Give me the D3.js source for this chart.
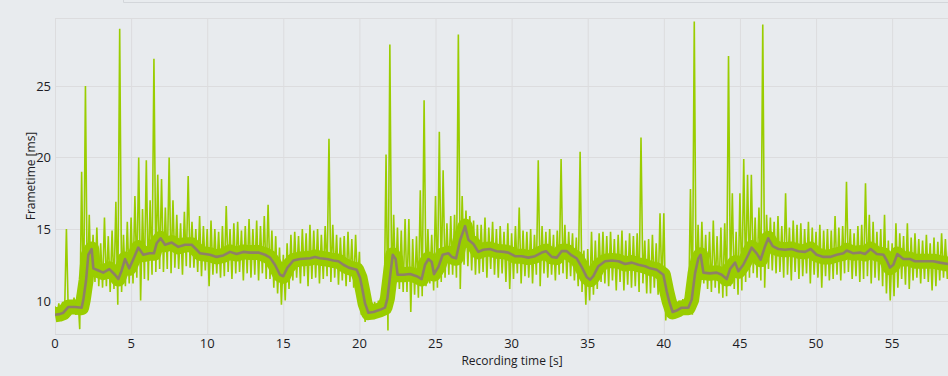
<!DOCTYPE html>
<html>
<head>
<meta charset="utf-8">
<script src="https://cdn.jsdelivr.net/npm/d3@7"></script>
<style>
  html, body { margin: 0; padding: 0; background: #e8ebee; }
  svg { display: block; }
  .tick-label { font-family: "Open Sans", "Noto Sans", sans-serif; font-size: 13px; fill: #1c1c24; }
  .axis-title { font-family: "Open Sans", "Noto Sans", sans-serif; font-size: 12px; fill: #1c1c24; }
</style>
</head>
<body>
<div id="chart"></div>
<script>
// frametime per 0.25 s window (max / min of the frames in it)
const binWidth = 0.25;
const frameMax = [
  9.6, 9.8, 9.9, 15.0,   10.0, 10.2, 10.5, 19.0,   25.0, 16.0, 14.6, 15.1,   14.0, 15.8, 14.5, 14.9,
  16.9, 29.0, 14.6, 15.5,   15.8, 17.3, 20.0, 16.4,   19.8, 17.0, 26.9, 18.8,   18.5, 16.5, 20.0, 17.0,
  16.0, 15.4, 16.2, 18.7,   15.5, 15.0, 15.9, 15.2,   15.0, 15.6, 15.0, 14.8,   15.2, 16.6, 15.0, 15.4,
  15.5, 14.9, 15.2, 15.7,   15.0, 15.6, 15.2, 15.9,   16.7, 14.9, 14.5, 13.7,   13.2, 14.0, 14.6, 14.8,
  14.5, 15.0, 14.7, 15.3,   14.9, 15.0, 14.6, 15.2,   21.3, 15.3, 14.6, 14.4,   14.5, 14.8, 14.3, 14.6,
  13.4, 10.8, 10.0, 10.0,   9.9, 10.0, 10.1, 20.2,   27.9, 16.0, 15.1, 14.9,   15.7, 15.7, 14.3, 14.5,
  17.7, 24.0, 15.0, 14.6,   17.3, 21.8, 19.1, 15.4,   15.9, 16.0, 28.6, 17.3,   16.3, 15.9, 15.6, 15.3,
  15.3, 15.8, 15.1, 15.5,   15.0, 15.2, 14.8, 15.4,   14.7, 15.2, 16.5, 14.9,   14.8, 15.0, 14.6, 19.8,
  15.2, 14.8, 15.0, 14.6,   14.9, 19.9, 15.3, 14.8,   14.7, 14.4, 20.4, 13.5,   13.6, 14.8, 14.2, 14.7,
  14.8, 14.5, 14.8, 14.3,   14.6, 14.9, 14.2, 14.7,   14.5, 14.7, 21.4, 14.2,   14.3, 14.6, 14.0, 16.1,
  16.1, 10.8, 10.0, 10.0,   10.0, 10.1, 10.3, 17.8,   29.5, 15.3, 15.5, 14.6,   14.8, 15.6, 14.5, 15.1,
  15.4, 27.1, 17.5, 14.8,   17.5, 19.9, 18.8, 18.8,   15.8, 16.5, 29.3, 16.0,   15.8, 15.5, 15.9, 15.2,
  17.5, 15.1, 15.6, 15.3,   15.4, 15.0, 15.5, 15.1,   14.8, 15.3, 14.9, 15.0,   14.9, 15.9, 15.1, 15.2,
  18.3, 15.0, 14.7, 15.2,   15.3, 18.2, 16.0, 15.5,   14.8, 15.0, 16.0, 14.2,   14.0, 15.4, 14.7, 14.5,
  15.4, 14.4, 14.7, 14.3,   14.2, 14.6, 14.0, 14.4,   14.1, 14.7, 14.3, 14.2
];
const frameMin = [
  8.7, 8.8, 8.9, 9.0,   9.1, 9.0, 8.0, 9.2,   10.2, 11.0, 11.3, 11.0,   10.9, 11.0, 10.6, 10.8,
  9.7, 10.6, 11.0, 11.2,   11.2, 11.6, 10.0, 11.5,   11.4, 11.8, 12.0, 12.2,   12.0, 12.2, 11.9, 12.3,
  12.2, 11.8, 12.4, 12.3,   12.3, 12.0, 11.7, 12.1,   11.0, 11.8, 11.9, 11.6,   11.7, 12.0, 11.5, 11.9,
  12.0, 11.4, 11.9, 11.6,   11.8, 11.4, 11.9, 11.5,   11.5, 10.9, 10.5, 9.7,   10.0, 10.8, 11.4, 11.6,
  11.2, 11.7, 11.0, 11.5,   11.6, 11.2, 11.5, 11.7,   11.3, 11.6, 11.1, 11.4,   11.0, 11.3, 10.9, 11.2,
  9.0, 8.5, 8.7, 8.8,   8.8, 8.9, 9.0, 7.9,   10.5, 11.2, 10.8, 10.6,   10.6, 9.2, 10.4, 10.2,
  10.3, 11.0, 11.2, 10.7,   10.9, 11.3, 11.6, 11.8,   11.8, 11.6, 10.8, 12.5,   12.4, 12.1, 11.8, 11.9,
  12.0, 11.6, 12.2, 11.8,   11.6, 11.9, 11.3, 10.8,   11.5, 11.9, 11.2, 11.7,   11.6, 11.2, 11.8, 11.0,
  11.9, 11.6, 11.8, 11.4,   11.8, 11.9, 11.5, 11.7,   11.4, 11.0, 10.6, 9.7,   10.0, 10.4, 10.8, 11.3,
  11.2, 11.0, 11.4, 10.7,   11.3, 10.7, 11.1, 10.9,   11.0, 10.6, 11.2, 10.5,   10.5, 10.9, 10.4, 10.8,
  8.6, 8.8, 8.8, 8.9,   8.9, 9.0, 9.1, 9.0,   10.4, 11.0, 11.2, 10.8,   10.6, 10.9, 10.5, 10.2,
  10.3, 11.0, 10.8, 10.4,   10.7, 11.3, 11.6, 11.9,   11.6, 11.4, 10.9, 12.2,   12.1, 11.9, 12.0, 11.6,
  11.8, 11.4, 12.0, 11.5,   11.7, 11.9, 11.2, 11.8,   11.6, 10.9, 11.7, 11.4,   11.5, 11.8, 11.4, 11.9,
  12.0, 11.5, 11.7, 11.3,   11.5, 11.7, 11.2, 11.6,   11.4, 11.0, 10.5, 10.0,   10.3, 10.9, 11.5, 11.1,
  10.8, 11.4, 11.6, 11.2,   11.5, 11.3, 10.7, 11.0,   11.4, 11.6, 11.5, 11.3
];

// moving average
const avgTime = [
  0.0, 0.3, 0.55, 0.88, 1.3, 1.75, 1.86, 2.04, 2.19, 2.41, 2.52, 2.85, 3.17, 3.57, 3.94, 4.16, 4.38, 4.6, 4.88,
  5.15, 5.47, 5.8, 6.2, 6.5, 6.68, 6.94, 7.23, 7.67, 8.1, 8.54, 8.98, 9.31, 9.53, 10.18, 10.62, 11.06, 11.5,
  11.93, 12.37, 12.81, 13.36, 13.8, 14.13, 14.45, 14.78, 15.0, 15.27, 15.66, 16.1, 16.76, 17.08, 17.41, 17.85,
  18.29, 18.62, 18.95, 19.3, 19.82, 20.04, 20.21, 20.37, 20.59, 20.92, 21.35, 21.68, 21.84, 22.01, 22.19, 22.38,
  22.51, 22.89, 23.33, 23.76, 24.09, 24.31, 24.53, 24.75, 24.9, 25.19, 25.47, 25.85, 26.07, 26.35, 26.61, 26.94,
  27.16, 27.49, 27.81, 28.14, 28.58, 29.02, 29.5, 29.78, 30.22, 30.66, 31.1, 31.54, 31.98, 32.26, 32.64, 32.96,
  33.29, 33.62, 33.95, 34.27, 34.6, 34.93, 35.15, 35.37, 35.7, 36.14, 36.58, 37.02, 37.46, 37.9, 38.33, 38.77,
  39.1, 39.53, 39.97, 40.19, 40.36, 40.58, 40.84, 41.17, 41.61, 41.83, 42.05, 42.27, 42.42, 42.6, 43.03, 43.47,
  43.8, 44.13, 44.35, 44.68, 44.9, 45.22, 45.55, 45.77, 46.1, 46.36, 46.65, 46.86, 47.15, 47.52, 47.96, 48.4,
  48.84, 49.28, 49.65, 50.04, 50.48, 50.92, 51.36, 51.8, 52.02, 52.45, 52.89, 53.22, 53.59, 53.99, 54.43, 54.65,
  54.86, 55.08, 55.34, 55.74, 56.17, 56.5, 57.05, 57.7, 58.14, 58.67
];
const avgFrametime = [
  9.0, 9.05, 9.15, 9.55, 9.55, 9.5, 10.05, 11.4, 13.2, 13.6, 12.25, 12.1, 11.95, 12.2, 11.8, 11.5, 12.1, 12.9, 12.25,
  12.9, 13.7, 13.2, 13.3, 13.3, 14.0, 14.35, 13.9, 14.05, 13.75, 13.9, 13.9, 13.55, 13.3, 13.2, 13.05, 13.15, 13.4,
  13.25, 13.4, 13.35, 13.35, 13.2, 13.0, 12.5, 11.8, 11.7, 12.3, 12.8, 12.9, 12.95, 13.05, 12.95, 12.9,
  12.8, 12.75, 12.5, 12.3, 12.15, 11.6, 10.7, 9.8, 9.15, 9.2, 9.35, 9.5, 10.15, 11.65, 13.2, 12.9,
  11.8, 11.8, 11.85, 11.7, 11.5, 12.5, 12.9, 12.7, 11.85, 12.35, 13.2, 13.3, 13.05, 12.95, 14.2, 15.2,
  14.25, 13.95, 13.4, 13.55, 13.6, 13.45, 13.4, 13.35, 13.1, 13.1, 13.0, 13.1, 13.35, 13.45, 13.05, 13.0,
  13.45, 13.45, 13.15, 12.95, 12.35, 11.65, 11.45, 11.7, 12.4, 12.75, 12.8, 12.75, 12.55, 12.65, 12.5, 12.4,
  12.25, 12.15, 11.8, 10.65, 9.9, 9.2, 9.3, 9.5, 9.5, 10.05, 11.9, 12.95, 13.2, 11.95, 11.9, 11.95,
  11.8, 11.5, 12.2, 12.65, 12.05, 12.5, 13.2, 13.7, 13.3, 12.85, 13.8, 14.35, 13.8, 13.6, 13.55, 13.6,
  13.45, 13.4, 13.6, 13.2, 13.05, 13.05, 13.2, 13.3, 13.5, 13.3, 13.35, 13.25, 13.6, 13.25, 13.2, 12.8,
  12.3, 12.5, 13.25, 12.9, 12.9, 12.75, 12.75, 12.75, 12.65, 12.55
];

const xTicks = [0, 5, 10, 15, 20, 25, 30, 35, 40, 45, 50, 55];
const yTicks = [10, 15, 20, 25];

const width = 948, height = 376;
const margin = { top: 18, right: 0, bottom: 42, left: 55 };

const svg = d3.select("#chart").append("svg")
  .attr("width", width)
  .attr("height", height);

// frame of a panel above the chart
svg.append("path")
  .attr("d", "M123.5,0 V2.5 H948")
  .attr("fill", "none")
  .attr("stroke", "#d3d6da");

const x = d3.scaleLinear().domain([0, 58.67]).range([margin.left, width - margin.right]);
const y = d3.scaleLinear().domain([7.66, 29.75]).range([height - margin.bottom, margin.top]);

svg.append("defs").append("clipPath").attr("id", "plot-clip")
  .append("rect")
  .attr("x", margin.left).attr("y", margin.top)
  .attr("width", width - margin.left - margin.right)
  .attr("height", height - margin.top - margin.bottom);

// grid
const grid = svg.append("g");
grid.selectAll(".vgrid").data(xTicks).join("line")
  .attr("x1", d => x(d) + 0.5).attr("x2", d => x(d) + 0.5)
  .attr("y1", margin.top).attr("y2", height - margin.bottom)
  .attr("stroke", "#dcdcde");
grid.selectAll(".hgrid").data(yTicks.concat([29.75])).join("line")
  .attr("x1", margin.left).attr("x2", width)
  .attr("y1", d => Math.round(y(d)) + 0.5).attr("y2", d => Math.round(y(d)) + 0.5)
  .attr("stroke", "#dcdcde");
// x axis baseline
svg.append("line")
  .attr("x1", margin.left).attr("x2", width)
  .attr("y1", height - margin.bottom + 0.5).attr("y2", height - margin.bottom + 0.5)
  .attr("stroke", "#d6d8db");

const plot = svg.append("g").attr("clip-path", "url(#plot-clip)");

const avgPoints = avgTime.map((t, i) => [t, avgFrametime[i]]);
const avgLine = d3.line().x(d => x(d[0])).y(d => y(d[1]));

// dense core of the frame cloud
plot.append("path")
  .attr("d", avgLine(avgPoints))
  .attr("fill", "none")
  .attr("stroke", "#9acd00")
  .attr("stroke-width", 15)
  .attr("stroke-linejoin", "round");

// raw frametimes: zigzag through max/min of each window
const framePoints = [];
frameMax.forEach((v, i) => {
  framePoints.push([i * binWidth, v]);
  framePoints.push([i * binWidth + binWidth / 2, frameMin[i]]);
});
plot.append("path")
  .attr("d", d3.line().x(d => x(d[0])).y(d => y(d[1]))(framePoints))
  .attr("fill", "none")
  .attr("stroke", "#9acd00")
  .attr("stroke-width", 1.6);

plot.append("path")
  .attr("d", avgLine(avgPoints))
  .attr("fill", "none")
  .attr("stroke", "#8f8068")
  .attr("stroke-width", 2.6)
  .attr("stroke-linejoin", "round");

// tick labels
svg.append("g").selectAll("text").data(xTicks).join("text")
  .attr("class", "tick-label")
  .attr("x", d => x(d))
  .attr("y", 348)
  .attr("text-anchor", "middle")
  .text(d => d);
svg.append("g").selectAll("text").data(yTicks).join("text")
  .attr("class", "tick-label")
  .attr("x", 51)
  .attr("y", d => y(d) + 5)
  .attr("text-anchor", "end")
  .text(d => d);

svg.append("text")
  .attr("class", "axis-title")
  .attr("transform", "translate(35,176) rotate(-90)")
  .attr("text-anchor", "middle")
  .text("Frametime [ms]");
svg.append("text")
  .attr("class", "axis-title")
  .attr("x", 512)
  .attr("y", 365)
  .attr("text-anchor", "middle")
  .text("Recording time [s]");
</script>
</body>
</html>
